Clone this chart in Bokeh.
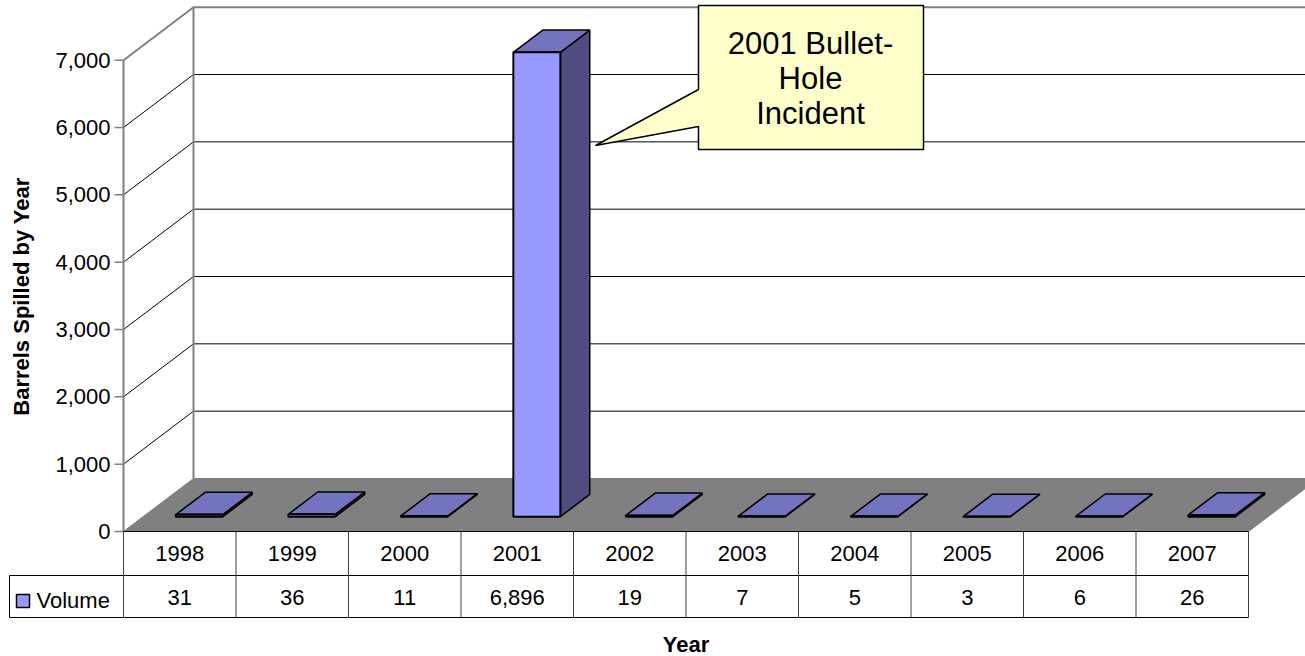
import numpy as np
from bokeh.plotting import figure
from bokeh.models import Range1d
from bokeh.embed import file_html
from bokeh.resources import INLINE
from bokeh.core.properties import value

# ---------------- data ----------------
years = ["1998", "1999", "2000", "2001", "2002", "2003", "2004", "2005", "2006", "2007"]
volumes = [31, 36, 11, 6896, 19, 7, 5, 3, 6, 26]
y_ticks = [0, 1000, 2000, 3000, 4000, 5000, 6000, 7000]
y_tick_labels = ["0", "1,000", "2,000", "3,000", "4,000", "5,000", "6,000", "7,000"]
series_name = "Volume"
x_title = "Year"
y_title = "Barrels Spilled by Year"
callout_lines = ["2001 Bullet-", "Hole", "Incident"]

# ---------------- layout (reference pixels) ----------------
W, H = 1305, 656
X0 = 123.0        # front-left corner of plot / table, px
CW = 112.5        # category width, px
Y0 = 531.0        # zero line on the front plane, px
KY = 67.33 / 1000  # px per barrel
DEPTH_PX = (70.0, 53.0)
FONT = value("Liberation Sans")


def dx(px):
    return (px - X0) / CW


def dy(py):
    return (Y0 - py) / KY


DXu = DEPTH_PX[0] / CW
DYu = DEPTH_PX[1] / KY
N = len(years)
ymax = y_ticks[-1]

p = figure(width=W, height=H, output_backend="svg", toolbar_location=None,
           x_range=Range1d(dx(0), dx(W)), y_range=Range1d(dy(H), dy(0)),
           min_border=0, outline_line_color=None)
p.axis.visible = False
p.grid.visible = False
p.background_fill_color = "white"

GRAY = "#808080"

# back wall gridlines
inner = y_ticks[1:-1]
p.segment(x0=[DXu] * len(inner), y0=[t + DYu for t in inner],
          x1=[dx(1330)] * len(inner), y1=[t + DYu for t in inner],
          line_color="black", line_width=1)
# side wall diagonals
p.segment(x0=[0] * len(inner), y0=inner, x1=[DXu] * len(inner),
          y1=[t + DYu for t in inner], line_color="black", line_width=1)
# top border (gray)
p.line(x=[0, DXu, dx(1330)], y=[ymax, ymax + DYu, ymax + DYu], line_color=GRAY, line_width=2)
# back wall left edge
p.line(x=[DXu, DXu], y=[DYu, ymax + DYu], line_color=GRAY, line_width=2)

# floor
p.patch(x=[0, DXu, N + DXu, N], y=[0, DYu, DYu, 0], fill_color=GRAY, line_color=GRAY)

# front axis + ticks
p.line(x=[0, 0], y=[0, ymax], line_color=GRAY, line_width=2)
p.segment(x0=[dx(114)] * len(y_ticks), y0=y_ticks, x1=[0] * len(y_ticks), y1=y_ticks,
          line_color=GRAY, line_width=1.5)
p.text(x=[dx(110)] * len(y_ticks), y=y_ticks, text=y_tick_labels, text_font=FONT,
       text_font_size="22px", text_align="right", text_baseline="middle", text_color="black")

# bars
hw = 47.0 / CW / 2
f0, f1 = 0.28, 0.70
side_xs, side_ys, top_xs, top_ys, fr_xs, fr_ys = [], [], [], [], [], []
for i, v in enumerate(volumes):
    c = i + 0.5
    l0, r0 = c - hw + f0 * DXu, c + hw + f0 * DXu
    l1, r1 = c - hw + f1 * DXu, c + hw + f1 * DXu
    b0, b1 = f0 * DYu, f1 * DYu
    side_xs.append([r0, r1, r1, r0]); side_ys.append([b0, b1, b1 + v, b0 + v])
    top_xs.append([l0, r0, r1, l1]); top_ys.append([b0 + v, b0 + v, b1 + v, b1 + v])
    fr_xs.append([l0, r0, r0, l0]); fr_ys.append([b0, b0, b0 + v, b0 + v])
p.patches(xs=side_xs, ys=side_ys, fill_color="#4D4D80", line_color="black", line_width=1.5)
p.patches(xs=top_xs, ys=top_ys, fill_color="#7373BF", line_color="black", line_width=1.5)
p.patches(xs=fr_xs, ys=fr_ys, fill_color="#9999FF", line_color="black", line_width=2)

# data table
r1y, r2y = dy(575), dy(617)
p.segment(x0=[0, dx(9), dx(9)], y0=[0, r1y, r2y], x1=[N, N, N], y1=[0, r1y, r2y],
          line_color="black", line_width=1)
p.segment(x0=list(range(N + 1)), y0=[0] * (N + 1), x1=list(range(N + 1)), y1=[r2y] * (N + 1),
          line_color="#404040", line_width=1)
p.segment(x0=[dx(9)], y0=[r1y], x1=[dx(9)], y1=[r2y], line_color="black", line_width=1)
centers = [i + 0.5 for i in range(N)]
p.text(x=centers, y=[dy(553)] * N, text=years, text_font=FONT, text_font_size="22px",
       text_align="center", text_baseline="middle", text_color="black")
p.text(x=centers, y=[dy(597)] * N, text=[f"{v:,}" for v in volumes], text_font=FONT,
       text_font_size="22px", text_align="center", text_baseline="middle", text_color="black")
# legend key
p.patch(x=[dx(16), dx(29), dx(29), dx(16)], y=[dy(594), dy(594), dy(607), dy(607)],
        fill_color="#9999FF", line_color="black", line_width=1.5)
p.text(x=[dx(36)], y=[dy(600)], text=[series_name], text_font=FONT, text_font_size="22px",
       text_align="left", text_baseline="middle", text_color="black")

# axis titles
p.text(x=[N / 2], y=[dy(644)], text=[x_title], text_font=FONT, text_font_size="22px",
       text_font_style="bold", text_align="center", text_baseline="middle", text_color="black")
p.text(x=[dx(21)], y=[dy(296)], text=[y_title], text_font=FONT, text_font_size="22px",
       text_font_style="bold", text_align="center", text_baseline="middle", angle=np.pi / 2,
       text_color="black")

# callout
cx = [698, 923, 923, 698, 698, 595, 698]
cy = [5, 5, 149, 149, 126, 145, 89]
p.patch(x=[dx(v) for v in cx], y=[dy(v) for v in cy], fill_color="#FFFFCC",
        line_color="black", line_width=1.5)
p.text(x=[dx(810)] * 3, y=[dy(43), dy(78), dy(113)], text=callout_lines, text_font=FONT,
       text_font_size="31px", text_align="center", text_baseline="middle", text_color="black")

open("out.html", "w").write(file_html(p, INLINE))
